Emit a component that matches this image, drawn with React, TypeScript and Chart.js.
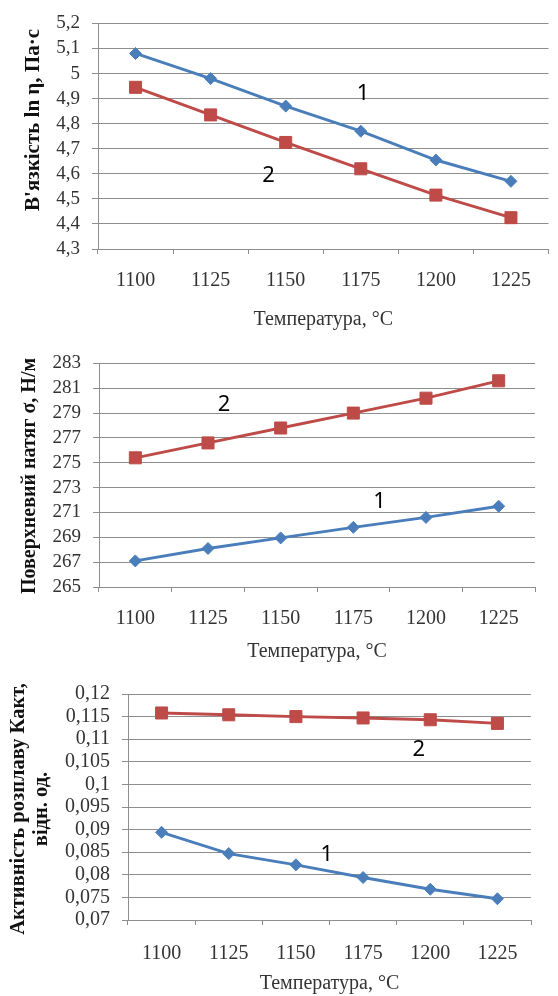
import React, { useEffect, useRef } from "react";
import { Chart, registerables } from "chart.js";

Chart.register(...registerables);

// ---- data ----
const temperatures = ["1100", "1125", "1150", "1175", "1200", "1225"];

const viscosity1 = [5.08, 4.98, 4.87, 4.77, 4.655, 4.57];
const viscosity2 = [4.945, 4.835, 4.725, 4.62, 4.515, 4.425];
const viscosityTicks = [4.3, 4.4, 4.5, 4.6, 4.7, 4.8, 4.9, 5.0, 5.1, 5.2];

const tension1 = [267.1, 268.1, 268.95, 269.8, 270.6, 271.5];
const tension2 = [275.4, 276.6, 277.8, 279.0, 280.2, 281.6];
const tensionTicks = [265, 267, 269, 271, 273, 275, 277, 279, 281, 283];

const activity1 = [0.0894, 0.0847, 0.0822, 0.0794, 0.0768, 0.0747];
const activity2 = [0.1158, 0.1154, 0.115, 0.1147, 0.1143, 0.1135];
const activityTicks = [0.07, 0.075, 0.08, 0.085, 0.09, 0.095, 0.1, 0.105, 0.11, 0.115, 0.12];

const xTitle = "Температура, °С";
const viscosityTitle = ["В'язкість ln η, Па·с"];
const tensionTitle = ["Поверхневий натяг σ, Н/м"];
const activityTitle = ["Активність розплаву Какт,", "відн. од."];

// curve labels: [text, category index position, value]
const viscosityLabels: [string, number, number][] = [["1", 3.03, 4.92], ["2", 1.77, 4.594]];
const tensionLabels: [string, number, number][] = [["2", 1.22, 279.7], ["1", 3.36, 271.9]];
const activityLabels: [string, number, number][] = [["2", 3.83, 0.1077], ["1", 2.46, 0.0844]];

const BLUE = "#4A7EBB";
const RED = "#BE4B48";
const GRID = "#8E8E8E";
const SERIF = "'Liberation Serif', 'Times New Roman', serif";

type Layout = {
  top: number;
  h: number;
  left: number;
  right: number;
  pTop: number;
  pBottom: number;
  xTitlePad: number;
  xTickPad: number;
  yTickSize: number;
  yTitleSize: number;
  yTitleX: number; // x of first title line centre
  yTitleY: number; // y of title centre (canvas coords)
  yTitleLine: number;
};

type Props = {
  layout: Layout;
  s1: number[];
  s2: number[];
  ticks: number[];
  yTitle: string[];
  labels: [string, number, number][];
};

function fmt(v: number) {
  return String(Number(v.toFixed(4))).replace(".", ",");
}

function LineBox({ layout, s1, s2, ticks, yTitle, labels }: Props) {
  const ref = useRef<HTMLCanvasElement>(null);
  useEffect(() => {
    const W = 558;
    const labelPlugin = {
      id: "curveLabels",
      afterDatasetsDraw(chart: any) {
        const { ctx } = chart;
        const xs = chart.scales.x;
        const ys = chart.scales.y;
        ctx.save();
        ctx.font = "22px 'Noto Sans', 'Open Sans', sans-serif";
        ctx.fillStyle = "#000";
        ctx.textAlign = "center";
        ctx.textBaseline = "middle";
        for (const [t, xi, yv] of labels) {
          ctx.fillText(t, xs.getPixelForValue(xi), ys.getPixelForValue(yv));
        }
        // y axis title
        ctx.font = `bold ${layout.yTitleSize}px ${SERIF}`;
        ctx.fillStyle = "#111";
        yTitle.forEach((line, i) => {
          ctx.save();
          ctx.translate(layout.yTitleX + i * layout.yTitleLine, layout.yTitleY);
          ctx.rotate(-Math.PI / 2);
          ctx.fillText(line, 0, 0);
          ctx.restore();
        });
        ctx.restore();
      },
    };
    const chart = new Chart(ref.current!, {
      type: "line",
      data: {
        labels: temperatures,
        datasets: [
          {
            data: s1,
            borderColor: BLUE,
            backgroundColor: BLUE,
            borderWidth: 2.9,
            pointStyle: "rectRot",
            pointRadius: 6,
            pointBorderWidth: 1,
            pointBackgroundColor: BLUE,
            pointBorderColor: BLUE,
          },
          {
            data: s2,
            borderColor: RED,
            backgroundColor: RED,
            borderWidth: 2.9,
            pointStyle: "rect",
            pointRadius: 8.5,
            pointBorderWidth: 1,
            pointBackgroundColor: RED,
            pointBorderColor: RED,
          },
        ],
      },
      options: {
        animation: false,
        responsive: false,
        maintainAspectRatio: false,
        layout: { padding: { top: layout.pTop, right: W - layout.right, left: 0, bottom: 0 } },
        plugins: { legend: { display: false }, tooltip: { enabled: false } },
        scales: {
          x: {
            type: "category",
            offset: true,
            grid: {
              offset: true,
              drawOnChartArea: false,
              drawTicks: true,
              tickLength: 5,
              color: GRID,
            },
            border: { display: true, color: GRID, width: 1 },
            ticks: {
              padding: layout.xTickPad,
              color: "#333",
              font: { family: SERIF, size: 20 },
              maxRotation: 0,
              autoSkip: false,
            },
            title: {
              display: true,
              text: xTitle,
              color: "#333",
              font: { family: SERIF, size: 20, lineHeight: 1 },
              padding: { top: 0, bottom: layout.xTitlePad },
            },
            afterFit(scale: any) {
              scale.height = layout.h - layout.pBottom;
            },
          },
          y: {
            type: "linear",
            min: ticks[0],
            max: ticks[ticks.length - 1],
            afterBuildTicks(scale: any) {
              scale.ticks = ticks.map((v) => ({ value: v }));
            },
            grid: { color: GRID, lineWidth: 1, tickLength: 6, drawTicks: true },
            border: { display: true, color: GRID, width: 1 },
            ticks: {
              padding: 12,
              color: "#333",
              autoSkip: false,
              font: { family: SERIF, size: layout.yTickSize },
              callback: (v: any) => fmt(Number(v)),
            },
            afterFit(scale: any) {
              scale.width = layout.left;
            },
          },
        },
      } as any,
      plugins: [labelPlugin],
    });
    return () => chart.destroy();
  }, []);
  return (
    <div style={{ position: "absolute", left: 0, top: layout.top, width: 558, height: layout.h }}>
      <canvas ref={ref} width={558} height={layout.h} style={{ width: 558, height: layout.h, display: "block" }} />
    </div>
  );
}

export default function App() {
  useEffect(() => {
    document.body.style.overflow = "hidden";
    document.body.style.background = "#fff";
  }, []);
  return (
    <div style={{ position: "absolute", left: 0, top: 0, width: 558, height: 996, background: "#fff" }}>
      <LineBox
        layout={{
          top: 0, h: 340, left: 98, right: 556, pTop: 16, pBottom: 249, xTitlePad: 10, xTickPad: 15,
          yTickSize: 19, yTitleSize: 21, yTitleX: 34, yTitleY: 120, yTitleLine: 23,
        }}
        s1={viscosity1}
        s2={viscosity2}
        ticks={viscosityTicks}
        yTitle={viscosityTitle}
        labels={viscosityLabels}
      />
      <LineBox
        layout={{
          top: 340, h: 330, left: 99, right: 535, pTop: 23, pBottom: 247, xTitlePad: 8, xTickPad: 15,
          yTickSize: 19, yTitleSize: 20, yTitleX: 30, yTitleY: 136, yTitleLine: 23,
        }}
        s1={tension1}
        s2={tension2}
        ticks={tensionTicks}
        yTitle={tensionTitle}
        labels={tensionLabels}
      />
      <LineBox
        layout={{
          top: 670, h: 326, left: 128, right: 531, pTop: 24, pBottom: 250, xTitlePad: 2, xTickPad: 17,
          yTickSize: 20, yTitleSize: 20.5, yTitleX: 19, yTitleY: 139, yTitleLine: 23,
        }}
        s1={activity1}
        s2={activity2}
        ticks={activityTicks}
        yTitle={activityTitle}
        labels={activityLabels}
      />
    </div>
  );
}
